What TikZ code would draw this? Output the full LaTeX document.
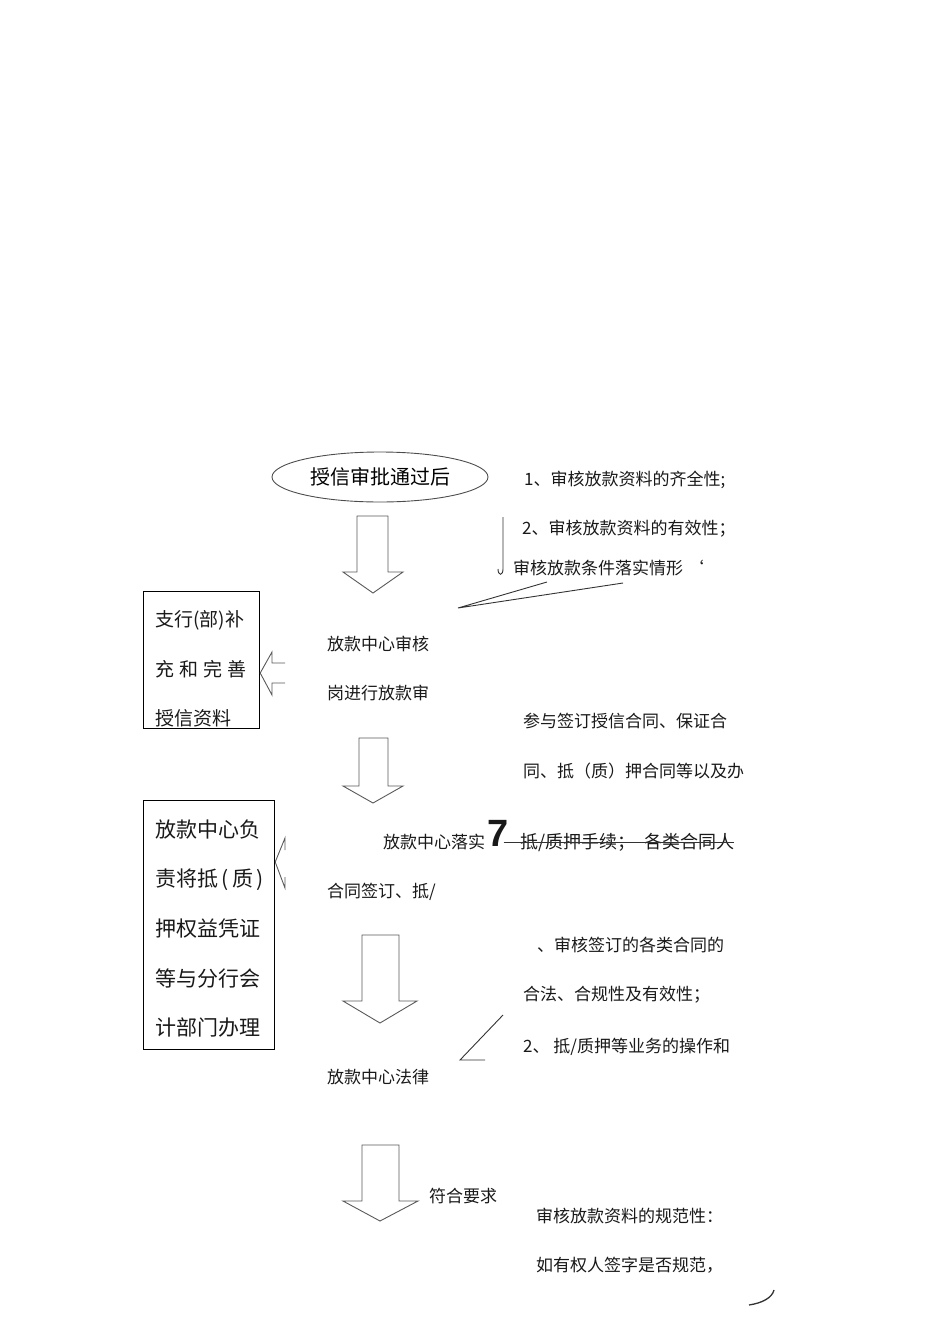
\documentclass[tikz,border=0pt]{standalone}
\usepackage{fontspec}
\newfontfamily\cjk{Noto Sans CJK SC}
\newfontfamily\numfont{Liberation Sans}
\usetikzlibrary{shapes.geometric}

\begin{document}
\begin{tikzpicture}[
    x=1pt, y=-1pt,
    font=\cjk\fontsize{17}{20}\selectfont,
    note/.style={anchor=west, inner sep=0pt, text=black!90},
    boxline/.style={anchor=west, inner sep=0pt, text=black!90,
                    font=\cjk\fontsize{#1}{#1}\selectfont},
    sidebox/.style={draw=black, line width=1.2pt, anchor=north west, inner sep=0pt},
    blockarrow/.style={draw=black!65, line width=0.9pt},
    thin/.style={draw=black!80, line width=0.9pt},
  ]
  \useasboundingbox (0,0) rectangle (950,1344);

  % --- start -----------------------------------------------------------
  \node[ellipse, draw=black!70, line width=0.9pt, minimum width=216pt,
        minimum height=50pt, font=\cjk\fontsize{20}{20}\selectfont] (start)
        at (380,477) {授信审批通过后};

  % --- block arrows down the middle ------------------------------------
  \foreach \l/\r/\t/\hy/\hl/\hr/\tx/\ty in
      {357/388/516/572/343/403/373/593,
       359/388/738/786/343/403/373/803,
       362/399/935/1001/343/417/380/1023,
       362/399/1145/1201/343/418/380/1221}
    \draw[blockarrow] (\l,\t) -- (\r,\t) -- (\r,\hy) -- (\hr,\hy) -- (\tx,\ty)
                      -- (\hl,\hy) -- (\l,\hy) -- cycle;

  % --- review step -----------------------------------------------------
  \node[note] (rev1) at (327,644) {放款中心审核};
  \node[note] (rev2) at (327,693) {岗进行放款审};

  \node[note] (chk1) at (524,480) {1、审核放款资料的齐全性;};
  \node[note] (chk2) at (522,529) {2、审核放款资料的有效性；};
  \node[note] (chk3) at (513,568) {审核放款条件落实情形\ ‘};
  \draw[thin] (503,517) -- (503,569) .. controls (503,576) and (498,576) .. (498,569);
  \coordinate (revtip) at (458,608);
  \draw[thin] (547,582) -- (revtip) -- (623,583);

  % --- supplement box --------------------------------------------------
  \node[sidebox, minimum width=116pt, minimum height=137pt] (supp) at (143,591) {};
  \foreach \t [count=\i] in {支行(部)补, 充\hspace{5pt}和\hspace{5pt}完\hspace{5pt}善, 授信资料}
    \node[boxline=19] at (155,{620+49*(\i-1)}) {\t};
  \draw[blockarrow] (285,663) -- (272,663) -- (272,652) -- (supp.east |- 0,673)
                    -- (272,695) -- (272,683) -- (285,683);

  % --- execution step --------------------------------------------------
  \node[note] (sign1) at (523,721) {参与签订授信合同、保证合};
  \node[note] (sign2) at (523,771) {同、抵（质）押合同等以及办};

  \node[note] (exec1) at (383,842) {放款中心落实};
  \node[note, font=\numfont\bfseries\fontsize{38}{38}\selectfont] (seven) at (487,833) {7};
  \node[note, font=\cjk\fontsize{18}{18}\selectfont] (strike) at (520,842)
    {抵/质押手续；\hspace{9pt}各类合同人};
  \draw[thin] ([xshift=-5pt]seven.east |- strike.west) -- (strike.east);
  \node[note] (exec2) at (327,892) {合同签订、抵/};

  % --- handover box ----------------------------------------------------
  \node[sidebox, minimum width=131pt, minimum height=249pt] (hand) at (143,800) {};
  \foreach \t [count=\i] in {放款中心负, 责将抵\,(\,质\,), 押权益凭证, 等与分行会, 计部门办理}
    \node[boxline=21] at (155,{830+49.5*(\i-1)}) {\t};
  \draw[blockarrow] (285,850) -- (285,838) -- (hand.east |- 0,862) -- (285,888) -- (285,877);

  % --- legal step ------------------------------------------------------
  \node[note] (law1) at (537,945) {、审核签订的各类合同的};
  \node[note] (law2) at (523,995) {合法、合规性及有效性；};
  \node[note] (law3) at (523,1047) {2、 抵/质押等业务的操作和};
  \coordinate (lawtip) at (460,1060);
  \draw[thin] (503,1015) -- (lawtip) -- (485,1060);
  \node[note] (legal) at (327,1077) {放款中心法律};

  % --- final step ------------------------------------------------------
  \node[note] (ok) at (429,1196) {符合要求};
  \node[note] (std1) at (536,1216) {审核放款资料的规范性：};
  \node[note] (std2) at (536,1265) {如有权人签字是否规范，};
  \draw[thin, line width=1.3pt] (749,1305) .. controls (762,1303) and (772,1298) .. (774,1290);
\end{tikzpicture}
\end{document}
